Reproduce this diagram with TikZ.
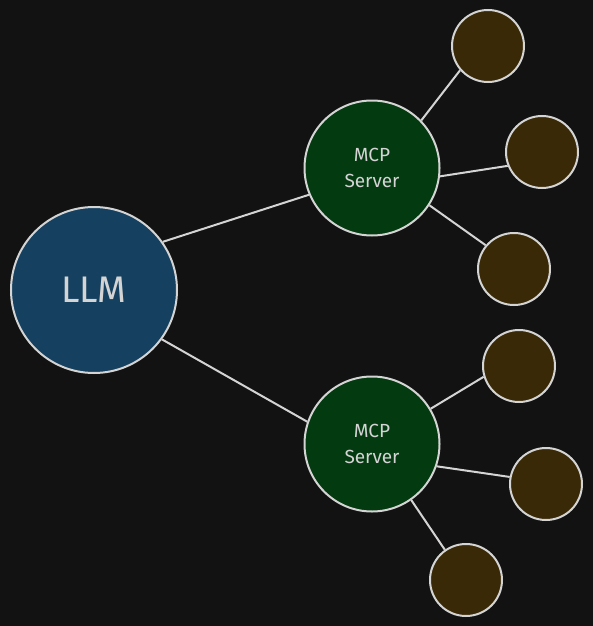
\documentclass[tikz,border=0pt]{standalone}
\usepackage{fontspec}
\setmainfont{Fira Sans}
\definecolor{bgdark}{HTML}{121212}
\definecolor{edgegray}{HTML}{D4D4D4}
\definecolor{llmblue}{HTML}{15405F}
\definecolor{servergreen}{HTML}{033A10}
\definecolor{toolbrown}{HTML}{392906}
\begin{document}
\begin{tikzpicture}[x=1pt,y=-1pt,line width=2pt,
    llm/.style={circle,draw=edgegray,fill=llmblue,text=edgegray,minimum size=166pt,inner sep=0pt,font=\fontsize{37}{40}\selectfont},
    server/.style={circle,draw=edgegray,fill=servergreen,text=edgegray,minimum size=135pt,inner sep=0pt,align=center,font=\fontsize{19}{26}\selectfont},
    tool/.style={circle,draw=edgegray,fill=toolbrown,minimum size=72pt,inner sep=0pt}]
        \fill[bgdark] (0,0) rectangle (593,626);
        \node[llm] (llm) at (94,290) {LLM};
        \node[server] (s1) at (372,168) {MCP\\Server};
        \node[server] (s2) at (372,444) {MCP\\Server};
        \draw[edgegray] (llm.35)--(s1.203);
        \draw[edgegray] (llm.-36)--(s2.161);
        % tools of the upper server
        \foreach \n/\x/\y/\a/\b in {t1/488/46/44/221,t2/542/152/-7/202,t3/514/269/-33/140}
        {
            \node[tool] (\n) at (\x,\y) {};
            \draw[edgegray] (s1.\a)--(\n.\b);
        }
        % tools of the lower server
        \foreach \n/\x/\y/\a/\b in {t4/519/366/31/197,t5/546/484/-19/169,t6/466/580/-55/125}
        {
            \node[tool] (\n) at (\x,\y) {};
            \draw[edgegray] (s2.\a)--(\n.\b);
        }
    \end{tikzpicture}
\end{document}
